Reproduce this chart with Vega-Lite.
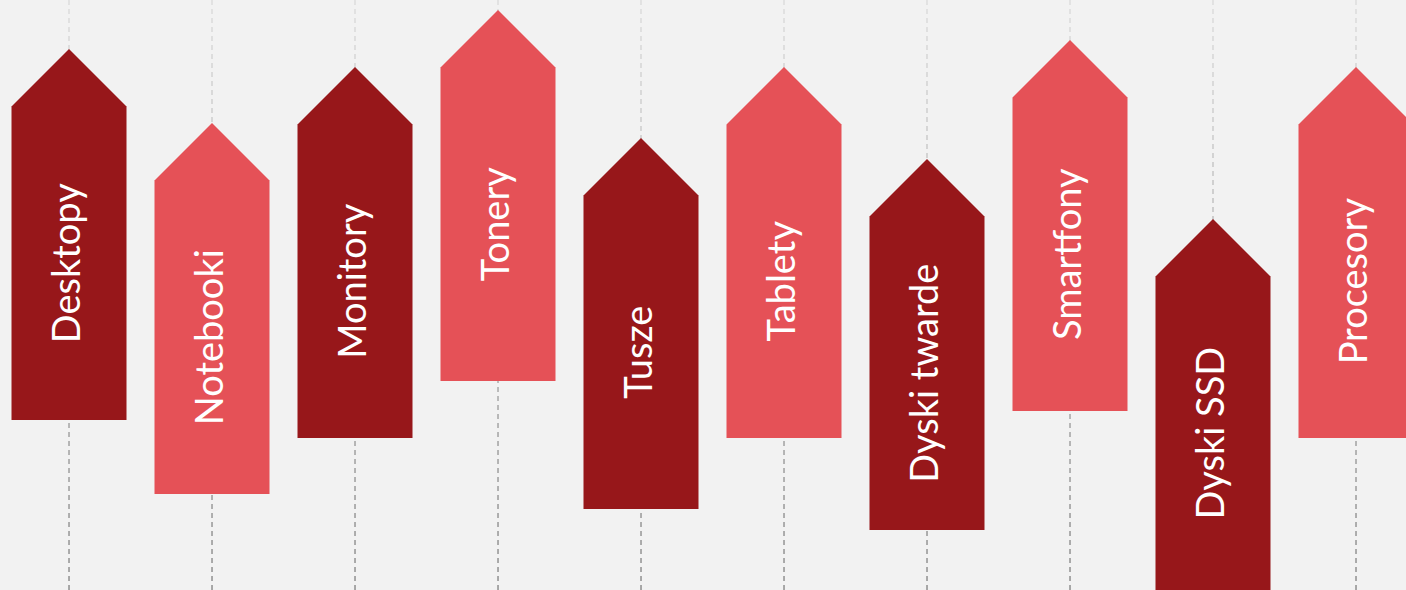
{
  "$schema": "https://vega.github.io/schema/vega-lite/v6.json",
  "width": 1406,
  "height": 590,
  "padding": 0,
  "autosize": {"type": "none"},
  "background": "#f2f2f2",
  "config": {"view": {"stroke": null}},
  "data": {
    "values": [
      {"kategoria": "Desktopy", "poz": 1, "wartosc": 541, "grupa": "A"},
      {"kategoria": "Notebooki", "poz": 2, "wartosc": 467, "grupa": "B"},
      {"kategoria": "Monitory", "poz": 3, "wartosc": 523, "grupa": "A"},
      {"kategoria": "Tonery", "poz": 4, "wartosc": 580, "grupa": "B"},
      {"kategoria": "Tusze", "poz": 5, "wartosc": 452, "grupa": "A"},
      {"kategoria": "Tablety", "poz": 6, "wartosc": 523, "grupa": "B"},
      {"kategoria": "Dyski twarde", "poz": 7, "wartosc": 431, "grupa": "A"},
      {"kategoria": "Smartfony", "poz": 8, "wartosc": 550, "grupa": "B"},
      {"kategoria": "Dyski SSD", "poz": 9, "wartosc": 371, "grupa": "A"},
      {"kategoria": "Procesory", "poz": 10, "wartosc": 523, "grupa": "B"}
    ]
  },
  "encoding": {
    "x": {
      "field": "poz",
      "type": "quantitative",
      "scale": {"domain": [0.5175, 10.3497], "nice": false, "zero": false},
      "axis": null
    }
  },
  "layer": [
    {
      "mark": {
        "type": "rule",
        "strokeWidth": 1.3,
        "strokeDash": [5, 4],
        "x2Offset": 0.02,
        "stroke": {
          "gradient": "linear",
          "x1": 0, "y1": 0, "x2": 0, "y2": 1,
          "stops": [
            {"offset": 0, "color": "#dadada"},
            {"offset": 1, "color": "#7f7f7f"}
          ]
        }
      },
      "encoding": {
        "x2": {"field": "poz"},
        "y": {"datum": 590, "type": "quantitative", "scale": {"domain": [0, 590], "nice": false, "zero": false}, "axis": null},
        "y2": {"datum": 0}
      }
    },
    {
      "mark": {
        "type": "point",
        "shape": "M0,0L1,1L1,6.45L-1,6.45L-1,1Z",
        "size": 13225,
        "filled": true,
        "opacity": 1,
        "strokeWidth": 0
      },
      "encoding": {
        "y": {"field": "wartosc", "type": "quantitative"},
        "color": {
          "field": "grupa",
          "type": "nominal",
          "scale": {"domain": ["A", "B"], "range": ["#97171a", "#e55157"]},
          "legend": null
        }
      }
    },
    {
      "mark": {
        "type": "text",
        "angle": 270,
        "align": "center",
        "baseline": "middle",
        "font": "Lato",
        "fontSize": 38,
        "fill": "#ffffff",
        "yOffset": 214.2
      },
      "encoding": {
        "y": {"field": "wartosc", "type": "quantitative"},
        "text": {"field": "kategoria"}
      }
    }
  ]
}
